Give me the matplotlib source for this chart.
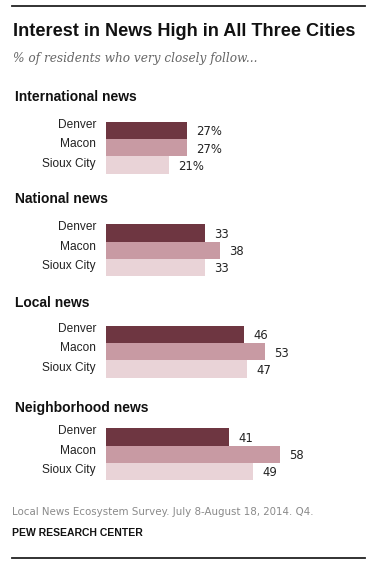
import matplotlib
matplotlib.use("Agg")
import matplotlib.pyplot as plt

W, H = 375, 566
DPI = 100

groups = ["International news", "National news", "Local news", "Neighborhood news"]
cities = ["Denver", "Macon", "Sioux City"]
denver = [27, 33, 46, 41]
macon = [27, 38, 53, 58]
sioux = [21, 33, 47, 49]
label_fmt = ["{}%", "{}", "{}", "{}"]

colors = ["#6e3641", "#c89aa3", "#e9d3d7"]

title = "Interest in News High in All Three Cities"
subtitle = "% of residents who very closely follow..."
source = "Local News Ecosystem Survey. July 8-August 18, 2014. Q4."
credit = "PEW RESEARCH CENTER"

fig = plt.figure(figsize=(W / DPI, H / DPI), dpi=DPI)
fig.patch.set_facecolor("white")

def fx(px):
    return px / W

def fy(py):
    return 1 - py / H

# rules
fig.add_artist(plt.Line2D([fx(12), fx(365)], [fy(6), fy(6)], color="#222222", lw=1.3))
fig.add_artist(plt.Line2D([fx(12), fx(365)], [fy(558), fy(558)], color="#222222", lw=1.3))

fig.text(fx(13), fy(31), title, fontsize=13.1, fontweight="bold", family="Liberation Sans",
         color="#111111", va="center", ha="left")
fig.text(fx(13), fy(58), subtitle, fontsize=8.7, style="italic", family="DejaVu Serif",
         color="#666666", va="center", ha="left")

bar_left = 106
px_per_unit = 3.0
ax_width_px = 250
group_tops = [122, 224.3, 326, 428.3]
group_h = 51.6
title_ys = [97, 199, 303, 408]

for gi, g in enumerate(groups):
    vals = [denver[gi], macon[gi], sioux[gi]]
    top = group_tops[gi]
    ax = fig.add_axes([fx(bar_left), fy(top + group_h), ax_width_px / W, group_h / H])
    ax.barh(range(3), vals, height=1.0, color=colors, edgecolor="none")
    ax.set_xlim(0, ax_width_px / px_per_unit)
    ax.set_ylim(2.5, -0.5)
    ax.axis("off")
    for i, v in enumerate(vals):
        ax.text(v + 9.5 / px_per_unit, i + 0.07, label_fmt[gi].format(v), va="center", ha="left",
                fontsize=8.4, family="DejaVu Sans", color="#222222")
    # category labels (slightly wider spacing than bars)
    bar_h = group_h / 3
    for i, c in enumerate(cities):
        cy = top + bar_h * (i + 0.5) - 3.5 + (i - 1) * 2.6
        fig.text(fx(96), fy(cy), c, ha="right", va="center", fontsize=8.6,
                 family="Liberation Sans", color="#222222")
    fig.text(fx(15), fy(title_ys[gi]), g, fontsize=10.0, fontweight="bold",
             family="Liberation Sans", color="#111111", va="center", ha="left")

fig.text(fx(12), fy(512), source, fontsize=7.4, family="DejaVu Sans", color="#8a8a8a",
         va="center", ha="left")
fig.text(fx(12), fy(533), credit, fontsize=7.5, fontweight="bold", family="Liberation Sans",
         color="#111111", va="center", ha="left")

fig.savefig("out.png", dpi=DPI, facecolor="white")
